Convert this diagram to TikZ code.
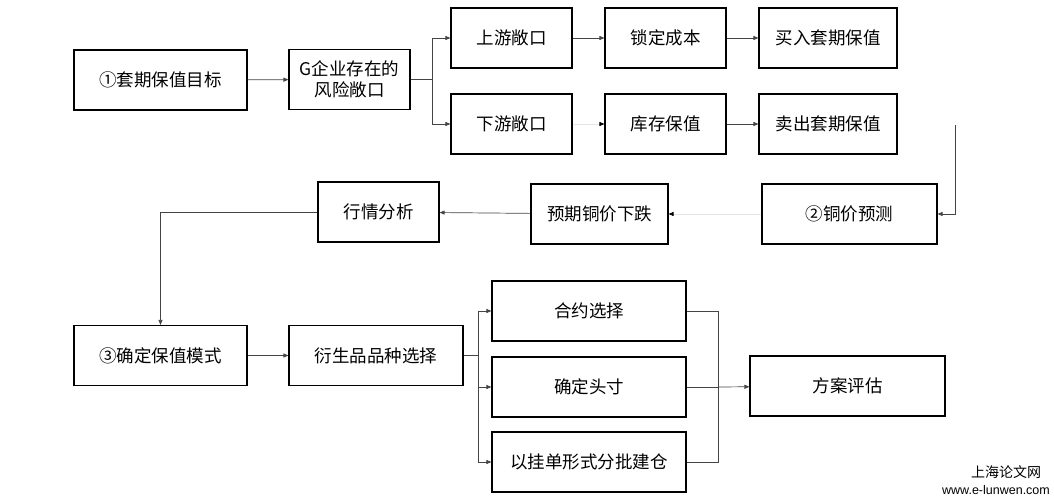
\documentclass[tikz,border=0pt]{standalone}
\usepackage{fontspec}
\newfontfamily\cjk{Noto Sans CJK SC}
\newfontfamily\wmfont{Liberation Sans}
\usetikzlibrary{arrows.meta,positioning}
\definecolor{Line}{HTML}{444444}
\definecolor{Faint}{HTML}{E4E4E4}

\begin{document}
\begin{tikzpicture}[x=1pt,y=-1pt,
    box/.style={draw=black,line width=1.1pt,minimum height=60pt,inner sep=2pt,
      font=\cjk\fontsize{17.5}{21}\selectfont,align=center},
    link/.style={draw=Line,line width=0.7pt},
    arr/.style={link,-{Triangle[length=5pt,width=4pt]}},
    faint/.style={draw=Faint,line width=0.7pt,-{Triangle[length=5pt,width=4pt,color=black]}}
  ]
    \useasboundingbox (0,0) rectangle (1054,502);
    % stage 1
    \node[box,minimum width=173pt] (goal) at (160.5,80) {①套期保值目标};
    \node[box,minimum width=121pt] (risk) at (349.5,79.5) {G企业存在的\\风险敞口};
    \node[box,minimum width=121pt] (up) at (511.5,38) {上游敞口};
    \node[box,minimum width=121pt] (down) at (511.5,124) {下游敞口};
    \node[box,minimum width=121pt] (lock) at (665.5,38) {锁定成本};
    \node[box,minimum width=138pt] (buy) at (828,38) {买入套期保值};
    \node[box,minimum width=121pt] (stock) at (665.5,124) {库存保值};
    \node[box,minimum width=138pt] (sell) at (828,124) {卖出套期保值};
    % stage 2
    \node[box,minimum width=175pt] (fcst) at (849.5,214) {②铜价预测};
    \node[box,minimum width=137pt] (fall) at (599.5,214) {预期铜价下跌};
    \node[box,minimum width=121pt] (mkt) at (378.5,212) {行情分析};
    % stage 3
    \node[box,minimum width=173pt] (mode) at (160.5,355.5) {③确定保值模式};
    \node[box,minimum width=174pt] (deriv) at (376,355.5) {衍生品品种选择};
    \node[box,minimum width=194pt] (ctr) at (589,311) {合约选择};
    \node[box,minimum width=194pt] (pos) at (589,387) {确定头寸};
    \node[box,minimum width=194pt] (batch) at (589,462) {以挂单形式分批建仓};
    \node[box,minimum width=195pt] (eval) at (847.5,386) {方案评估};

    \coordinate (s1) at (432,79.5);
    \coordinate (c1) at (955,125);
    \coordinate (s2) at (478,355.5);
    \coordinate (j) at (718,387);

    \draw[arr] (goal) -- (risk);
    \draw[link] (risk) -- (s1);
    \foreach \t in {up,down}
      \draw[arr] (s1) |- (\t);
    \draw[arr] (up) -- (lock);
    \draw[faint] (down) -- (stock);
    \draw[arr] (lock) -- (buy);
    \draw[arr] (stock) -- (sell);
    \draw[arr] (c1) |- (fcst);
    \draw[faint] (fcst) -- (fall);
    \draw[arr] (fall) -- (mkt);
    \draw[arr] (mkt) -| (mode);
    \draw[arr] (mode) -- (deriv);
    \draw[link] (deriv) -- (s2);
    \foreach \t in {ctr,pos,batch}
      \draw[arr] (s2) |- (\t);
    \foreach \t in {ctr,pos,batch}
      \draw[link] (\t) -| (j);
    \draw[arr] (j) -- (eval);

    \node[font=\cjk\fontsize{14}{16}\selectfont] (wm1) at (1006,472) {上海论文网};
    \node[font=\wmfont\fontsize{12.5}{14}\selectfont] (wm2) at (996,490) {www.e-lunwen.com};
  \end{tikzpicture}
\end{document}
